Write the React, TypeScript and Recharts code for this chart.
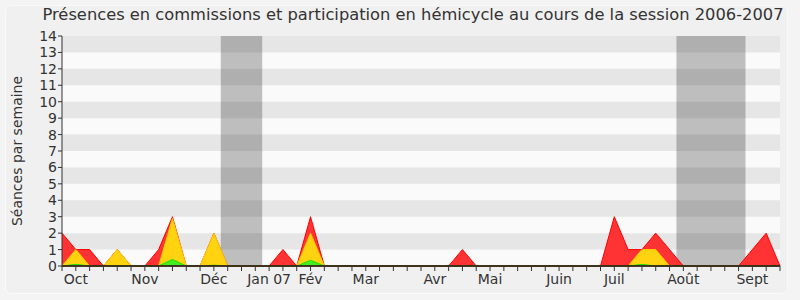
import React from 'react';
import { AreaChart, Area, XAxis, YAxis, ReferenceArea, ReferenceLine } from 'recharts';

// séances par semaine, 53 semaines (sept. 2006 -> sept. 2007)
const totalSeances = [2, 1, 1, 0, 1, 0, 0, 1, 3, 0, 0, 2, 0, 0, 0, 0, 1, 0, 3, 0, 0, 0, 0, 0, 0, 0, 0, 0, 0, 1, 0, 0, 0, 0, 0, 0, 0, 0, 0, 0, 3, 1, 1, 2, 1, 0, 0, 0, 0, 0, 1, 2, 0];
const commission = [0, 1, 0, 0, 1, 0, 0, 0, 2.9, 0, 0, 2, 0, 0, 0, 0, 0, 0, 2, 0, 0, 0, 0, 0, 0, 0, 0, 0, 0, 0, 0, 0, 0, 0, 0, 0, 0, 0, 0, 0, 0, 0, 1, 1, 0, 0, 0, 0, 0, 0, 0, 0, 0];
const hemicycle = [0, 0.1, 0, 0, 0, 0, 0, 0, 0.4, 0, 0, 0.05, 0, 0, 0, 0, 0, 0, 0.35, 0, 0, 0, 0, 0, 0, 0, 0, 0, 0, 0, 0, 0, 0, 0, 0, 0, 0, 0, 0, 0, 0, 0, 0.1, 0, 0, 0, 0, 0, 0, 0, 0, 0, 0];

const months = ['Oct', 'Nov', 'Déc', 'Jan 07', 'Fév', 'Mar', 'Avr', 'Mai', 'Juin', 'Juil', 'Août', 'Sept'];
const monthWeeks = [1, 6, 11, 15, 18, 22, 27, 31, 36, 40, 45, 50];

// vacances parlementaires (en semaines)
const vacStart = [11.5, 44.5];
const vacEnd = [14.5, 49.5];

const yTicks = [0, 1, 2, 3, 4, 5, 6, 7, 8, 9, 10, 11, 12, 13, 14];

const data = totalSeances.map((v, i) => ({
  week: i,
  total: v,
  commission: commission[i],
  hemicycle: hemicycle[i],
}));
const weekTicks = data.map((d) => d.week);

const WeekTick = (props: any) => {
  const { x, y, payload } = props;
  const idx = monthWeeks.indexOf(payload.value);
  if (idx < 0) return <g />;
  return (
    <text x={x} y={y} dy={11} textAnchor="middle" fontSize={14} fill="#333">
      {months[idx]}
    </text>
  );
};

const App: React.FC = () => {
  return (
    <div
      style={{
        position: 'absolute',
        left: 0,
        top: 0,
        width: 800,
        height: 300,
        background: '#f4f4f4',
        fontFamily: 'DejaVu Sans, sans-serif',
      }}
    >
      <div
        style={{
          position: 'absolute',
          left: 5,
          top: 5,
          width: 781,
          height: 287,
          background: '#f0f0f0',
          border: '1px solid #fafafa',
          borderRadius: 6,
        }}
      />
      <div
        style={{
          position: 'absolute',
          left: 20,
          width: 786,
          top: 5,
          textAlign: 'center',
          fontSize: 16.3,
          color: '#333',
        }}
      >
        Présences en commissions et participation en hémicycle au cours de la session 2006-2007
      </div>
      <div style={{ position: 'absolute', left: 0, top: 0 }}>
        <AreaChart width={800} height={300} data={data} margin={{ top: 36, right: 20, bottom: 4, left: 12 }}>
          {/* bandes horizontales */}
          <ReferenceArea y1={0} y2={14} fill="#fafafa" fillOpacity={1} stroke="none" ifOverflow="hidden" />
          {yTicks.filter((t) => t % 2 === 1).map((t) => (
            <ReferenceArea key={`band-${t}`} y1={t} y2={t + 1} fill="#e6e6e6" fillOpacity={1} stroke="none" />
          ))}
          {vacStart.map((s, i) => (
            <ReferenceArea key={`vac-${i}`} x1={s} x2={vacEnd[i]} fill="#000" fillOpacity={0.24} stroke="none" />
          ))}
          <XAxis
            dataKey="week"
            type="number"
            domain={[0, 52]}
            ticks={weekTicks}
            interval={0}
            tickSize={5}
            tickMargin={2}
            height={30}
            tick={<WeekTick />}
            stroke="#333"
            axisLine={{ stroke: '#222' }}
          />
          <XAxis
            xAxisId="top"
            dataKey="week"
            type="number"
            orientation="top"
            domain={[0, 52]}
            ticks={weekTicks}
            interval={0}
            tickSize={1}
            height={0}
            tick={false}
            axisLine={false}
            stroke="#333"
          />
          <YAxis
            type="number"
            domain={[0, 14]}
            ticks={yTicks}
            interval={0}
            width={50}
            tickSize={4}
            tickMargin={1}
            stroke="#333"
            tick={{ fontSize: 14, fill: '#333' }}
            label={{
              value: 'Séances par semaine',
              angle: -90,
              position: 'insideLeft',
              offset: 5,
              dy: 0,
              style: { textAnchor: 'middle', fontSize: 14, fill: '#333' },
            }}
          />
          <Area
            type="linear"
            dataKey="total"
            stroke="#ff0000"
            strokeWidth={1}
            fill="#ff3333"
            fillOpacity={1}
            isAnimationActive={false}
            dot={false}
            activeDot={false}
          />
          <Area
            type="linear"
            dataKey="commission"
            stroke="#ffcc00"
            strokeWidth={1}
            fill="#ffd310"
            fillOpacity={1}
            isAnimationActive={false}
            dot={false}
            activeDot={false}
          />
          <Area
            type="linear"
            dataKey="hemicycle"
            stroke="#22dd00"
            strokeWidth={1}
            fill="#44ee22"
            fillOpacity={1}
            isAnimationActive={false}
            dot={false}
            activeDot={false}
          />
          <ReferenceLine y={0} stroke="#4a1a0a" strokeWidth={1.5} />
        </AreaChart>
      </div>
    </div>
  );
};

export default App;
